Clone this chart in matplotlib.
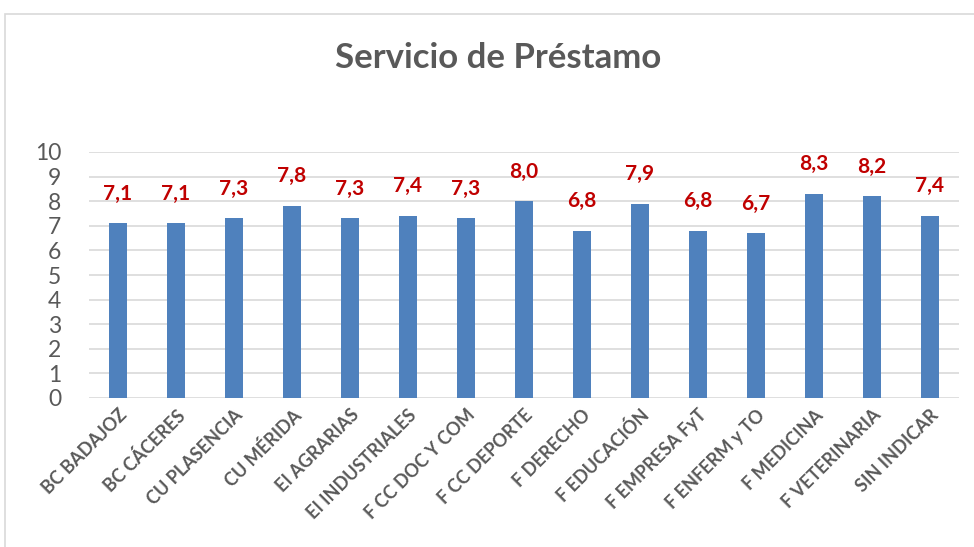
import matplotlib.pyplot as plt
from matplotlib.patches import Rectangle

categorias = ["BC BADAJOZ", "BC CÁCERES", "CU PLASENCIA", "CU MÉRIDA", "EI AGRARIAS",
              "EI INDUSTRIALES", "F CC DOC Y COM", "F CC DEPORTE", "F DERECHO",
              "F EDUCACIÓN", "F EMPRESA FyT", "F ENFERM y TO", "F MEDICINA",
              "F VETERINARIA", "SIN INDICAR"]
valores = [7.1, 7.1, 7.3, 7.8, 7.3, 7.4, 7.3, 8.0, 6.8, 7.9, 6.8, 6.7, 8.3, 8.2, 7.4]
yticks = list(range(0, 11))

plt.rcParams['font.family'] = ['Lato', 'DejaVu Sans']

fig = plt.figure(figsize=(9.74, 5.47), dpi=100)
# marco del gráfico
fig.patches.append(Rectangle((5 / 974, -0.01), 2, (547 - 14) / 547 + 0.01,
                             transform=fig.transFigure, fill=False,
                             edgecolor='#D9D9D9', linewidth=1.2))

ax = fig.add_axes([89 / 974, 1 - 398 / 547, (959 - 89) / 974, (398 - 152) / 547])
x = list(range(len(categorias)))
ax.bar(x, valores, width=0.32, color='#4F81BD', zorder=3)

for xi, v in zip(x, valores):
    ax.text(xi, v + 0.8, f"{v:.1f}".replace('.', ','), ha='center', va='bottom',
            color='#C00000', fontsize=15, fontweight='bold')

ax.set_xlim(-0.5, len(categorias) - 0.5)
ax.set_ylim(0, 10)
ax.set_yticks(yticks)
ax.grid(axis='y', color='#D9D9D9', linewidth=1.2, zorder=0)
for s in ax.spines.values():
    s.set_visible(False)
ax.tick_params(axis='y', length=0, labelsize=16.5, labelcolor='#595959', pad=20)
ax.tick_params(axis='x', length=0, pad=6)
ax.set_xticks(x)
ax.set_xticklabels(categorias, rotation=45, ha='right', rotation_mode='anchor',
                   fontsize=13, fontweight='bold', color='#595959')

fig.text(498 / 974, 1 - 58 / 547, "Servicio de Préstamo", ha='center', va='center',
         fontsize=25, fontweight='bold', color='#595959')

fig.savefig('out.png', dpi=100)
